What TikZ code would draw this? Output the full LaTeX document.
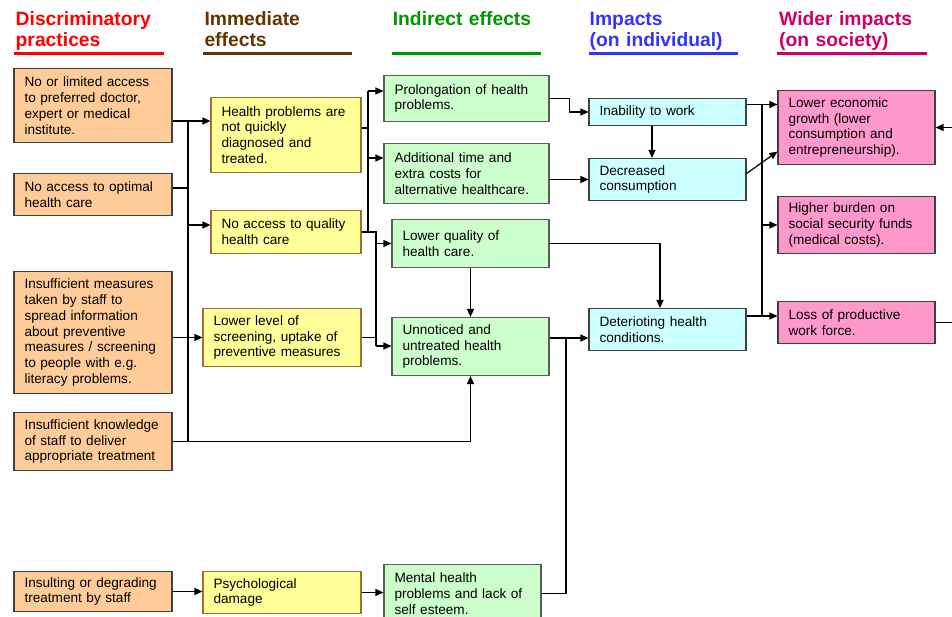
\documentclass[tikz,border=0pt]{standalone}
\usepackage{fontspec}
\setmainfont{Liberation Sans}
\usetikzlibrary{arrows.meta}
\definecolor{cOr}{RGB}{255,204,153}
\definecolor{cYe}{RGB}{255,255,153}
\definecolor{cGr}{RGB}{204,255,204}
\definecolor{cCy}{RGB}{204,255,255}
\definecolor{cPk}{RGB}{255,153,204}
\definecolor{bDark}{RGB}{64,64,64}
\definecolor{bBrown}{RGB}{160,110,50}
\definecolor{bGray}{RGB}{90,90,90}
\definecolor{hRed}{RGB}{255,0,0}
\definecolor{hBrown}{RGB}{102,51,0}
\definecolor{hGreen}{RGB}{0,150,0}
\definecolor{hBlue}{RGB}{51,51,255}
\definecolor{hMag}{RGB}{204,0,102}
\begin{document}
\begin{tikzpicture}[x=1pt,y=-1pt,
  box/.style={line width=1.1pt, inner xsep=10.5pt, inner ysep=0pt, align=left,
    font=\fontsize{13.6}{15.9}\selectfont, anchor=center},
  obox/.style={box, fill=cOr, draw=bDark},
  ybox/.style={box, fill=cYe, draw=bBrown},
  gbox/.style={box, fill=cGr, draw=bGray},
  cbox/.style={box, fill=cCy, draw=bDark},
  pbox/.style={box, fill=cPk, draw=bDark},
  wA/.style={minimum width=158pt, text width=137pt},
  wB/.style={minimum width=150pt, text width=129pt},
  wC/.style={minimum width=165pt, text width=144pt},
  wD/.style={minimum width=157pt, text width=136pt},
  head/.style={font=\fontsize{19.3}{21}\selectfont\bfseries, inner sep=0pt, anchor=base west, align=left, text width=150pt},
  uline/.style={line width=3.4pt},
  conn/.style={line width=1.2pt, black},
  arr/.style={conn, -{Triangle[length=8pt,width=7pt]}}
]
\clip (0,0) rectangle (952,616);

% headers
\node[head, text=hRed] (h1) at (15.5,25) {Discriminatory\\practices};
\draw[uline, hRed] (14,53.3) -- (164,53.3);
\node[head, text=hBrown] (h2) at (204.3,25) {Immediate\\effects};
\draw[uline, hBrown] (203,53.3) -- (352,53.3);
\node[head, text=hGreen] (h3) at (392.6,25) {Indirect effects};
\draw[uline, hGreen] (392,53.3) -- (541,53.3);
\node[head, text=hBlue] (h4) at (589.5,25) {Impacts\\(on individual)};
\draw[uline, hBlue] (589,53.3) -- (738,53.3);
\node[head, text=hMag] (h5) at (779,25) {Wider impacts\\(on society)};
\draw[uline, hMag] (777,53.3) -- (927,53.3);

% column A
\node[obox, wA, minimum height=74pt] (a1) at (93,105.5) {No or limited access\\to preferred doctor,\\expert or medical\\institute.};
\node[obox, wA, minimum height=42pt] (a2) at (93,194.5) {No access to optimal\\health care};
\node[obox, wA, minimum height=122pt] (a3) at (93,332.5) {Insufficient measures\\taken by staff to\\spread information\\about preventive\\measures / screening\\to people with e.g.\\literacy problems.};
\node[obox, wA, minimum height=58pt] (a4) at (93,441.5) {Insufficient knowledge\\of staff to deliver\\appropriate treatment};
\node[obox, wA, minimum height=40pt] (a5) at (93,591.5) {Insulting or degrading\\treatment by staff};

% column B
\node[ybox, wB, minimum height=75pt] (b1) at (286,135) {Health problems are\\not quickly\\diagnosed and\\treated.};
\node[ybox, wB, minimum height=43pt] (b2) at (286,232) {No access to quality\\health care};
\node[ybox, wA, minimum height=58pt] (b3) at (282,337.5) {Lower level of\\screening, uptake of\\preventive measures};
\node[ybox, wA, minimum height=42pt] (b4) at (282,592.5) {Psychological\\damage};

% column C
\node[gbox, wC, minimum height=46pt] (c1) at (466.5,98.5) {Prolongation of health\\problems.};
\node[gbox, wC, minimum height=60pt] (c2) at (466.5,173.5) {Additional time and\\extra costs for\\alternative healthcare.};
\node[gbox, wD, minimum height=48pt] (c3) at (470.5,243.5) {Lower quality of\\health care.};
\node[gbox, wD, minimum height=58pt] (c4) at (470.5,346.5) {Unnoticed and\\untreated health\\problems.};
\node[gbox, wD, minimum height=58pt] (c5) at (462.5,593.5) {Mental health\\problems and lack of\\self esteem.};

% column D
\node[cbox, wD, minimum height=27pt] (d1) at (667.5,112) {Inability to work};
\node[cbox, wD, minimum height=42pt] (d2) at (667.5,179.5) {Decreased\\consumption};
\node[cbox, wD, minimum height=42pt] (d3) at (667.5,329.5) {Deterioting health\\conditions.};

% column E
\node[pbox, wD, minimum height=74pt] (e1) at (856.5,127.5) {Lower economic\\growth (lower\\consumption and\\entrepreneurship).};
\node[pbox, wD, minimum height=57pt] (e2) at (856.5,225) {Higher burden on\\social security funds\\(medical costs).};
\node[pbox, wD, minimum height=42pt] (e3) at (856.5,322.5) {Loss of productive\\work force.};

% junction coordinates
\coordinate (p1) at (188,121);
\coordinate (p2) at (188,441.5);
\coordinate (p3) at (188,188);
\coordinate (p4) at (188,225);
\coordinate (q1) at (368,91);
\coordinate (q2) at (368,232);
\coordinate (q3) at (376,232);
\coordinate (q4) at (376,346);
\coordinate (q5) at (368,128);
\coordinate (q6) at (368,158);
\coordinate (r1) at (566,338);
\coordinate (s1) at (762,104.5);
\coordinate (s2) at (762,316);
\coordinate (t1) at (952,127.5);
\coordinate (t2) at (952,322.5);

% A -> B
\draw[arr] (a1.east |- p1) -- (b1.west |- p1);
\draw[conn] (p1) -- (p2);
\draw[conn] (a2.east |- p3) -- (p3);
\draw[arr] (p4) -- (b2.west |- p4);
\draw[arr] (a3.east |- b3.west) -- (b3.west);
\draw[arr] (a4.east) -- (a4.east -| c4.south) -- (c4.south);
\draw[arr] (a5.east) -- (a5.east -| b4.west);
\draw[arr] (b4.east) -- (b4.east -| c5.west);

% B -> C
\draw[conn] (b1.east |- q5) -- (q5);
\draw[conn] (q1) -- (q2);
\draw[conn] (b2.east) -- (q3) -- (q4);
\draw[conn] (b3.east) -- (b3.east -| q4);
\draw[arr] (q1) -- (c1.west |- q1);
\draw[arr] (q6) -- (c2.west |- q6);
\draw[arr] (q3 |- c3.west) -- (c3.west);
\draw[arr] (q4) -- (c4.west |- q4);

% C -> D
\draw[arr] (c1.east) -- ++(20,0) |- (d1.west);
\draw[arr] (c2.east |- d2.west) -- (d2.west);
\draw[arr] ([xshift=-15.5pt]d1.south) -- ([xshift=-15.5pt]d2.north);
\draw[arr] (c3.east) -| ([xshift=-7.5pt]d3.north);
\draw[arr] (c3.south) -- (c4.north);
\draw[arr] (c4.east |- r1) -- (d3.west |- r1);
\draw[conn] (c5.east) -| (r1);

% D -> E
\draw[arr] (d1.east |- s1) -- (e1.west |- s1);
\draw[conn] (s1) -- (s2);
\draw[arr] ([yshift=6pt]d2.east) -- ([yshift=-24pt]e1.west);
\draw[arr] (s1 |- e2.west) -- (e2.west);
\draw[arr] (d3.east |- s2) -- (e3.west |- s2);
\draw[arr] (t1) -- (e1.east);
\draw[conn] (e3.east) -- (t2);
\end{tikzpicture}
\end{document}
